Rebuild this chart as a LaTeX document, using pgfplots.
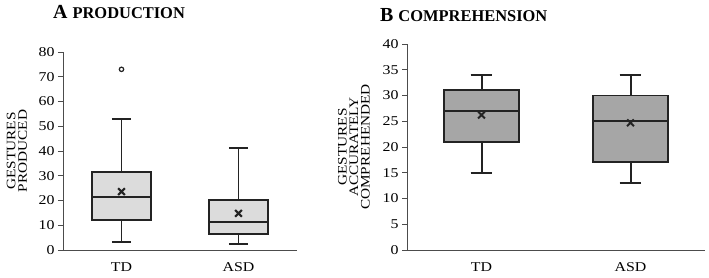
\documentclass[border=0pt]{standalone}
\usepackage{fontspec}
\setmainfont[FakeStretch=1.18]{Liberation Serif}
\newfontfamily\titlefont{Liberation Serif}
\usepackage{pgfplots}
\pgfplotsset{compat=1.18}
\usepgfplotslibrary{statistics}
\definecolor{lightbox}{RGB}{220,220,220}
\definecolor{darkbox}{RGB}{166,166,166}
\definecolor{ink}{RGB}{35,35,35}
\pgfplotsset{
  gcommon/.style={
    scale only axis,
    axis x line=bottom, axis y line=left,
    axis line style={-, line width=1pt, draw=black!70},
    xmin=0.5, xmax=2.5,
    xtick={1,2}, xticklabels={TD,ASD},
    x tick style={draw=none},
    y tick style={line width=0.8pt, draw=black!70},
    tick align=outside, major tick length=5bp,
    ticklabel style={font=\fontsize{13.5}{14}\selectfont},
    xticklabel style={yshift=-4bp},
    /pgf/number format/assume math mode=true,
    ylabel style={font=\fontsize{13}{11.5}\selectfont, align=center, anchor=center},
    boxplot/draw direction=y,
    boxplot/every box/.style={draw=ink, line width=2pt},
    boxplot/every whisker/.style={draw=ink, line width=2pt},
    boxplot/every median/.style={draw=ink, line width=1.8pt},
    boxplot/every average/.style={/tikz/mark=x, /tikz/mark size=4.8bp, /tikz/mark options={line width=2pt, draw=ink, solid}},
  },
}
\begin{document}
\begin{tikzpicture}
\path[use as bounding box] (0,0) rectangle (709bp,278bp);
\node[anchor=base west, inner sep=0pt] at (53bp,259bp) {\titlefont\bfseries\fontsize{20}{20}\selectfont A \fontsize{16.5}{16.5}\selectfont PRODUCTION};
\node[anchor=base west, inner sep=0pt] at (380bp,256.5bp) {\titlefont\bfseries\fontsize{20}{20}\selectfont B \fontsize{16.5}{16.5}\selectfont COMPREHENSION};
\begin{axis}[gcommon,
  at={(63bp,28bp)}, anchor=south west,
  width=234bp, height=198bp,
  ymin=0, ymax=80, ytick={0,10,...,80},
  ylabel={GESTURES\\PRODUCED},
  ylabel style={at={(axis description cs:-0.197,0.5)}},
]
\addplot[draw=ink, line width=2pt, fill=lightbox, mark=o, mark size=2.2bp, mark options={line width=1.2pt, fill=none},
  boxplot prepared={lower whisker=3.2, lower quartile=12.3, median=21.3, upper quartile=31.4, upper whisker=53, average=23.6, draw position=1, box extend=0.5, whisker extend=0.165}]
  table[row sep=\\, y index=0] {73\\};
\addplot[draw=ink, line width=2pt, fill=lightbox,
  boxplot prepared={lower whisker=2.3, lower quartile=6.3, median=11.3, upper quartile=20.1, upper whisker=41.2, average=14.8, draw position=2, box extend=0.5, whisker extend=0.165}]
  coordinates {};
\end{axis}
\begin{axis}[gcommon,
  at={(407bp,28bp)}, anchor=south west,
  width=298bp, height=206bp,
  ymin=0, ymax=40, ytick={0,5,...,40},
  ylabel={GESTURES\\ACCURATELY\\COMPREHENDED},
  ylabel style={at={(axis description cs:-0.178,0.5)}},
]
\addplot[draw=ink, line width=2pt, fill=darkbox,
  boxplot prepared={lower whisker=15, lower quartile=21, median=27, upper quartile=31, upper whisker=34, average=26.2, draw position=1, box extend=0.5, whisker extend=0.146}]
  coordinates {};
\addplot[draw=ink, line width=2pt, fill=darkbox,
  boxplot prepared={lower whisker=13, lower quartile=17, median=25, upper quartile=30, upper whisker=34, average=24.7, draw position=2, box extend=0.5, whisker extend=0.146}]
  coordinates {};
\end{axis}
\end{tikzpicture}
\end{document}
